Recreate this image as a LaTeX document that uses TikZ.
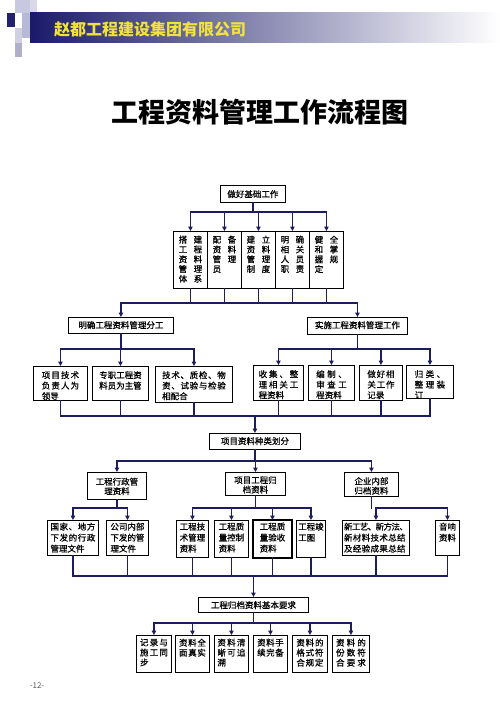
\documentclass[tikz,border=0pt]{standalone}
\usepackage{fontspec}
\setmainfont{Noto Sans CJK SC}
\newfontfamily\boxfont{Noto Sans CJK SC}[FakeBold=0.6]
\usetikzlibrary{arrows.meta,calc}
\definecolor{navy}{HTML}{1C1C5E}
\definecolor{bannerdark}{HTML}{1A1A6A}
\definecolor{hdryellow}{HTML}{F2E23C}
\definecolor{sqA}{HTML}{C8C8E0}
\definecolor{sqB}{HTML}{D8D8E8}
\definecolor{sqC}{HTML}{22226E}
\definecolor{sqD}{HTML}{B8B8D8}
\definecolor{sqE}{HTML}{D0D0E0}
\definecolor{sqF}{HTML}{B0B0C8}
\newcommand\ls[2]{{\addfontfeature{LetterSpace=#1}#2}}
\newcommand\cc[2]{#1\hspace{6.5pt}#2}
% name x1 y1 x2 y2 pad textopts text
\newcommand\bx[8]{%
  \pgfmathsetmacro\bw{#4-#2}\pgfmathsetmacro\bh{#5-#3}%
  \node[box,minimum width=\bw pt,minimum height=\bh pt] (#1) at (#2,#3) {};%
  \node[txt,#7] (#1t) at ([yshift=-#6pt]#1.north) {#8};}
\begin{document}
\begin{tikzpicture}[x=1pt,y=-1pt,
  box/.style={draw=black,line width=0.9pt,anchor=north west,inner sep=0pt,fill=white},
  txt/.style={anchor=north,inner sep=0pt,align=left,font=\boxfont\fontsize{8.5}{10.5}\selectfont},
  fa/.style={font=\boxfont\fontsize{8.5}{9.8}\selectfont},
  fb/.style={font=\boxfont\fontsize{8.5}{9.5}\selectfont,align=center},
  fc/.style={font=\boxfont\fontsize{8.5}{11}\selectfont},
  fd/.style={font=\boxfont\fontsize{8.5}{10}\selectfont},
  ln/.style={draw=navy,line width=1.1pt,line cap=rect},
  arr/.style={draw=navy,line width=1.1pt,-{Triangle[length=4.5pt,width=4.5pt]}}]
\useasboundingbox (0,0) rectangle (500,722);
\fill[white] (0,0) rectangle (500,722);
% header decoration
\fill[sqA] (15,0) rectangle (30,13);
\fill[sqB] (30,0) rectangle (37,13);
\fill[sqC] (7,13) rectangle (15,27);
\fill[sqD] (22,13) rectangle (30,38);
\fill[sqE] (15,28) rectangle (22,43);
\fill[sqF] (15,43) rectangle (22,57);
\shade[left color=bannerdark,right color=white] (30,13) rectangle (500,43);
\node[font=\fontsize{16}{16}\selectfont\bfseries,text=hdryellow,inner sep=0pt] (hdr) at (150,29) {赵都工程建设集团有限公司};
% title
\node[font=\fontsize{27}{27}\selectfont\bfseries,inner sep=0pt] (title) at (259.5,112) {工程资料管理工作流程图};
% level A
\bx{A0}{220}{185}{285}{202}{5}{}{做好基础工作}
\bx{C1}{173}{231}{207}{288}{4.5}{fa}{\cc{搭}{建}\\\cc{工}{程}\\\cc{资}{料}\\\cc{管}{理}\\\cc{体}{系}}
\bx{C2}{207}{231}{241}{288}{4.5}{fa}{\cc{配}{备}\\\cc{资}{料}\\\cc{管}{理}\\员}
\bx{C3}{241}{231}{275}{288}{4.5}{fa}{\cc{建}{立}\\\cc{资}{料}\\\cc{管}{理}\\\cc{制}{度}}
\bx{C4}{275}{231}{309}{288}{4.5}{fa}{\cc{明}{确}\\\cc{相}{关}\\\cc{人}{员}\\\cc{职}{责}}
\bx{C5}{309}{231}{343}{288}{4.5}{fa}{\cc{健}{全}\\\cc{和}{掌}\\\cc{握}{规}\\定}
% level B
\bx{B1}{68}{317}{173}{333}{4}{}{明确工程资料管理分工}
\bx{B2}{307}{317}{407}{334}{4}{}{实施工程资料管理工作}
% level D
\bx{D1}{33}{366}{87}{400}{5}{}{\ls{13}{项目技术}\\\ls{13}{负责人为}\\领导}
\bx{D2}{92}{366}{148}{400}{5}{}{专职工程资\\料员为主管}
\bx{D3}{155}{366}{232}{402}{5}{}{\ls{8}{技术、质检、物}\\\ls{8}{资、试验与检验}\\相配合}
\bx{D4}{253}{365}{303}{400}{5}{}{\ls{22}{收集、整}\\\ls{22}{理相关工}\\程资料}
\bx{D5}{308}{365}{354}{400}{5}{}{\ls{29}{编制、}\\\ls{29}{审查工}\\程资料}
\bx{D6}{359}{365}{402}{400}{5}{}{\ls{10}{做好相}\\\ls{10}{关工作}\\记录}
\bx{D7}{406}{365}{453}{398}{5}{}{\ls{29}{归类、}\\\ls{29}{整理装}\\订}
% level E
\bx{E0}{209}{433}{300}{449}{4}{}{项目资料种类划分}
% level F
\bx{F1}{87}{472}{146}{499}{5.5}{fb}{工程行政管\\理资料}
\bx{F2}{225}{472}{285}{495}{4}{fb}{项目工程归\\档资料}
\bx{F3}{344}{472}{398}{496}{5}{fb}{企业内部\\归档资料}
% level G
\bx{G1}{47}{520}{98}{555}{2.5}{fc}{\ls{7}{国家、地方}\\\ls{7}{下发的行政}\\管理文件}
\bx{G2}{106}{520}{148}{555}{2.5}{fc}{公司内部\\下发的管\\理文件}
\bx{G3}{176}{520}{208}{557}{2.5}{fc}{工程技\\术管理\\资料}
\bx{G4}{214}{520}{248}{557}{2.5}{fc}{工程质\\量控制\\资料}
\bx{G5}{253}{520}{291}{557}{2.5}{fc}{工程质\\量验收\\资料}
\draw[line width=1.8pt] (G5.north west) rectangle (G5.south east);
\bx{G6}{296}{520}{325}{557}{2.5}{fc}{工程竣\\工图}
\bx{G7}{342}{520}{409}{555}{2.5}{fc}{\ls{-7}{新工艺、新方法、}\\\ls{4}{新材料技术总结}\\\ls{4}{及经验成果总结}}
\bx{G8}{435}{520}{459}{555}{2.5}{fc}{音响\\资料}
% level H
\bx{H0}{198}{597}{308}{612}{4}{}{工程归档资料基本要求}
% level I
\bx{I1}{136}{635}{171}{672}{3.5}{fd}{\ls{14}{记录与}\\\ls{14}{施工同}\\步}
\bx{I2}{175}{635}{209}{672}{3.5}{fd}{\ls{8}{资料全}\\\ls{8}{面真实}}
\bx{I3}{214}{635}{248}{672}{3.5}{fd}{\ls{15}{资料清}\\\ls{15}{晰可追}\\溯}
\bx{I4}{253}{635}{287}{672}{3.5}{fd}{\ls{6}{资料手}\\\ls{6}{续完备}}
\bx{I5}{292}{635}{327}{672}{3.5}{fd}{\ls{10}{资料的}\\\ls{10}{格式符}\\\ls{10}{合规定}}
\bx{I6}{332}{635}{369}{672}{3.5}{fd}{\ls{25}{资料的}\\\ls{25}{份数符}\\\ls{25}{合要求}}
% bus levels
\coordinate (k1) at (0,212);
\coordinate (k2) at (0,303);
\coordinate (k3) at (0,349);
\coordinate (k4) at (0,416);
\coordinate (k5) at (0,461);
\coordinate (k6) at (0,508);
\coordinate (k7) at (0,576);
\coordinate (k8) at (0,623);
% A0 -> cells
\draw[ln] (A0.south) -- (A0.south |- k1);
\draw[ln] (C1.north |- k1) -- (C5.north |- k1);
\foreach \n in {C1,C2,C3,C4,C5} \draw[arr] (\n.north |- k1) -- (\n.north);
% cells -> B
\foreach \n in {C1,C2,C3,C4,C5} \draw[ln] (\n.south) -- (\n.south |- k2);
\draw[ln] (B1.north |- k2) -- (B2.north |- k2);
\foreach \n in {B1,B2} \draw[arr] (\n.north |- k2) -- (\n.north);
% B -> D
\draw[ln] (B1.south) -- (B1.south |- k3);
\draw[ln] (D1.north |- k3) -- (D3.north |- k3);
\foreach \n in {D1,D2,D3} \draw[arr] (\n.north |- k3) -- (\n.north);
\draw[ln] (B2.south) -- (B2.south |- k3);
\draw[ln] (D4.north |- k3) -- (D7.north |- k3);
\foreach \n in {D4,D5,D6,D7} \draw[arr] (\n.north |- k3) -- (\n.north);
% D -> E
\foreach \n in {D1,D2,D3,D4,D5,D6,D7} \draw[ln] (\n.south) -- (\n.south |- k4);
\draw[ln] (D1.south |- k4) -- (D7.south |- k4);
\draw[arr] (E0.north |- k4) -- (E0.north);
% E -> F
\draw[ln] (E0.south) -- (E0.south |- k5);
\draw[ln] (F1.north |- k5) -- (F3.north |- k5);
\foreach \n in {F1,F2,F3} \draw[arr] (\n.north |- k5) -- (\n.north);
% F -> G
\draw[ln] (F1.south) -- (F1.south |- k6);
\draw[ln] (G1.north |- k6) -- (G2.north |- k6);
\foreach \n in {G1,G2} \draw[arr] (\n.north |- k6) -- (\n.north);
\draw[ln] (F2.south) -- (F2.south |- k6);
\draw[ln] (G3.north |- k6) -- (G6.north |- k6);
\foreach \n in {G3,G4,G5,G6} \draw[arr] (\n.north |- k6) -- (\n.north);
\draw[ln] (F3.south) -- (F3.south |- k6);
\draw[ln] (G7.north |- k6) -- (G8.north |- k6);
\foreach \n in {G7,G8} \draw[arr] (\n.north |- k6) -- (\n.north);
% G -> H
\foreach \n in {G1,G2,G3,G4,G5,G6,G7,G8} \draw[ln] (\n.south) -- (\n.south |- k7);
\draw[ln] (G1.south |- k7) -- (G8.south |- k7);
\draw[arr] (H0.north |- k7) -- (H0.north);
% H -> I
\draw[ln] (H0.south) -- (H0.south |- k8);
\draw[ln] (I1.north |- k8) -- (I6.north |- k8);
\foreach \n in {I1,I2,I3,I4,I5,I6} \draw[arr] (\n.north |- k8) -- (\n.north);
% page number
\node[text=black!65,font=\fontsize{8}{8}\selectfont,inner sep=0pt] (pg) at (37,686) {-12-};
\end{tikzpicture}
\end{document}
